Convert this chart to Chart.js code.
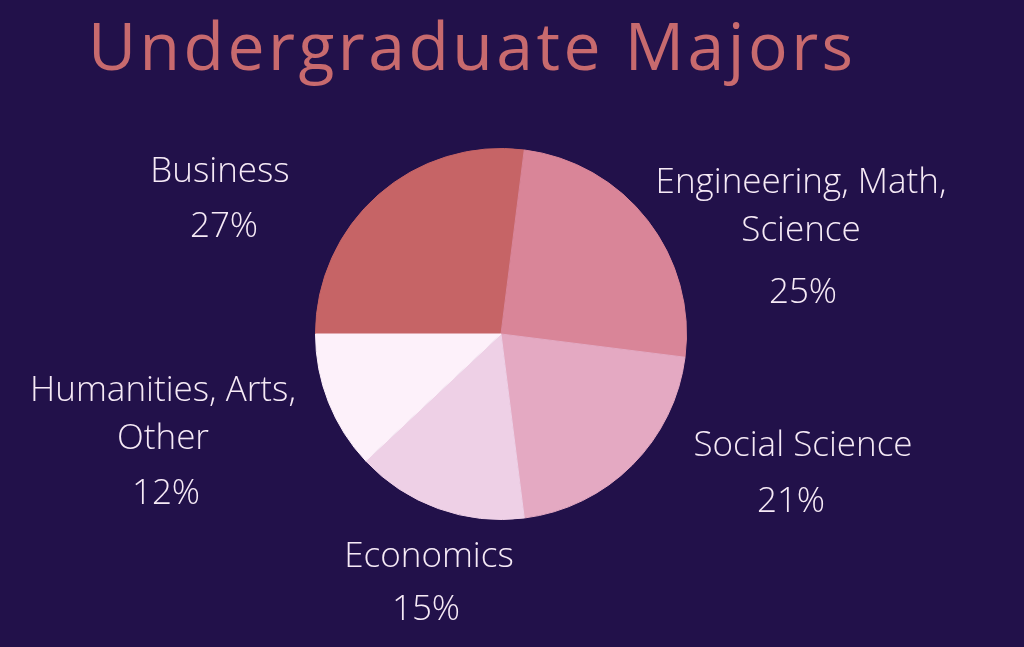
<!DOCTYPE html>
<html>
<head>
<meta charset="utf-8">
<script src="https://cdn.jsdelivr.net/npm/chart.js@4"></script>
<style>
  html, body { margin: 0; padding: 0; background: #22114a; }
  #wrap { width: 1024px; height: 647px; }
</style>
</head>
<body>
<div id="wrap"><canvas id="majorsChart" width="1024" height="647"></canvas></div>
<script>
// Data
const majors = ['Business', 'Engineering, Math, Science', 'Social Science', 'Economics', 'Humanities, Arts, Other'];
const shares = [27, 25, 21, 15, 12];
const sliceColors = ['#c66466', '#d98598', '#e4a9c2', '#eed0e6', '#fdf1fa'];

// label lines as printed on the picture
const labelLines = [
    ['Business'],
    ['Engineering, Math,', 'Science'],
    ['Social Science'],
    ['Economics'],
    ['Humanities, Arts,', 'Other']
];

// where each label sits, relative to pie centre (layout only)
const labelLayout = [
    { dx: -281, dy: -162, pctDx: 4, pctGap: 55 },
    { dx: 300, dy: -151, pctDx: 2, pctGap: 62 },
    { dx: 302, dy: 112, pctDx: -12, pctGap: 56 },
    { dx: -72, dy: 223, pctDx: -3, pctGap: 53 },
    { dx: -338, dy: 57, pctDx: 3, pctGap: 55 }
];

const titleText = 'Undergraduate Majors';

// Draws the title and the outside labels
const labelPlugin = {
    id: 'outsideLabels',
    afterDraw(chart) {
        const ctx = chart.ctx;
        const arc = chart.getDatasetMeta(0).data[0];
        const cx = arc.x, cy = arc.y;

        ctx.save();
        ctx.fillStyle = '#c86a6e';
        ctx.font = '66px "Open Sans"';
        ctx.letterSpacing = '3.5px';
        ctx.textAlign = 'left';
        ctx.textBaseline = 'alphabetic';
        ctx.fillText(titleText, 88, 70);
        ctx.letterSpacing = '0px';

        ctx.fillStyle = '#f6eaf6';
        ctx.textAlign = 'center';
        ctx.textBaseline = 'middle';
        ctx.font = '300 35px "Open Sans"';
        labelLines.forEach((lines, i) => {
            const pos = labelLayout[i];
            let y = cy + pos.dy;
            lines.forEach((line, j) => {
                ctx.fillText(line, cx + pos.dx, y + j * 48);
            });
            y += (lines.length - 1) * 48 + pos.pctGap;
            ctx.fillText(shares[i] + '%', cx + pos.dx + pos.pctDx, y);
        });
        ctx.restore();
    }
};

new Chart(document.getElementById('majorsChart'), {
    type: 'pie',
    data: {
        labels: majors,
        datasets: [{
            data: shares,
            backgroundColor: sliceColors,
            borderColor: sliceColors,
            borderWidth: 1
        }]
    },
    options: {
        responsive: false,
        animation: false,
        rotation: 270,
        layout: { padding: { left: 315, right: 337, top: 148, bottom: 127 } },
        plugins: {
            legend: { display: false },
            tooltip: { enabled: false }
        }
    },
    plugins: [labelPlugin]
});
</script>
</body>
</html>
